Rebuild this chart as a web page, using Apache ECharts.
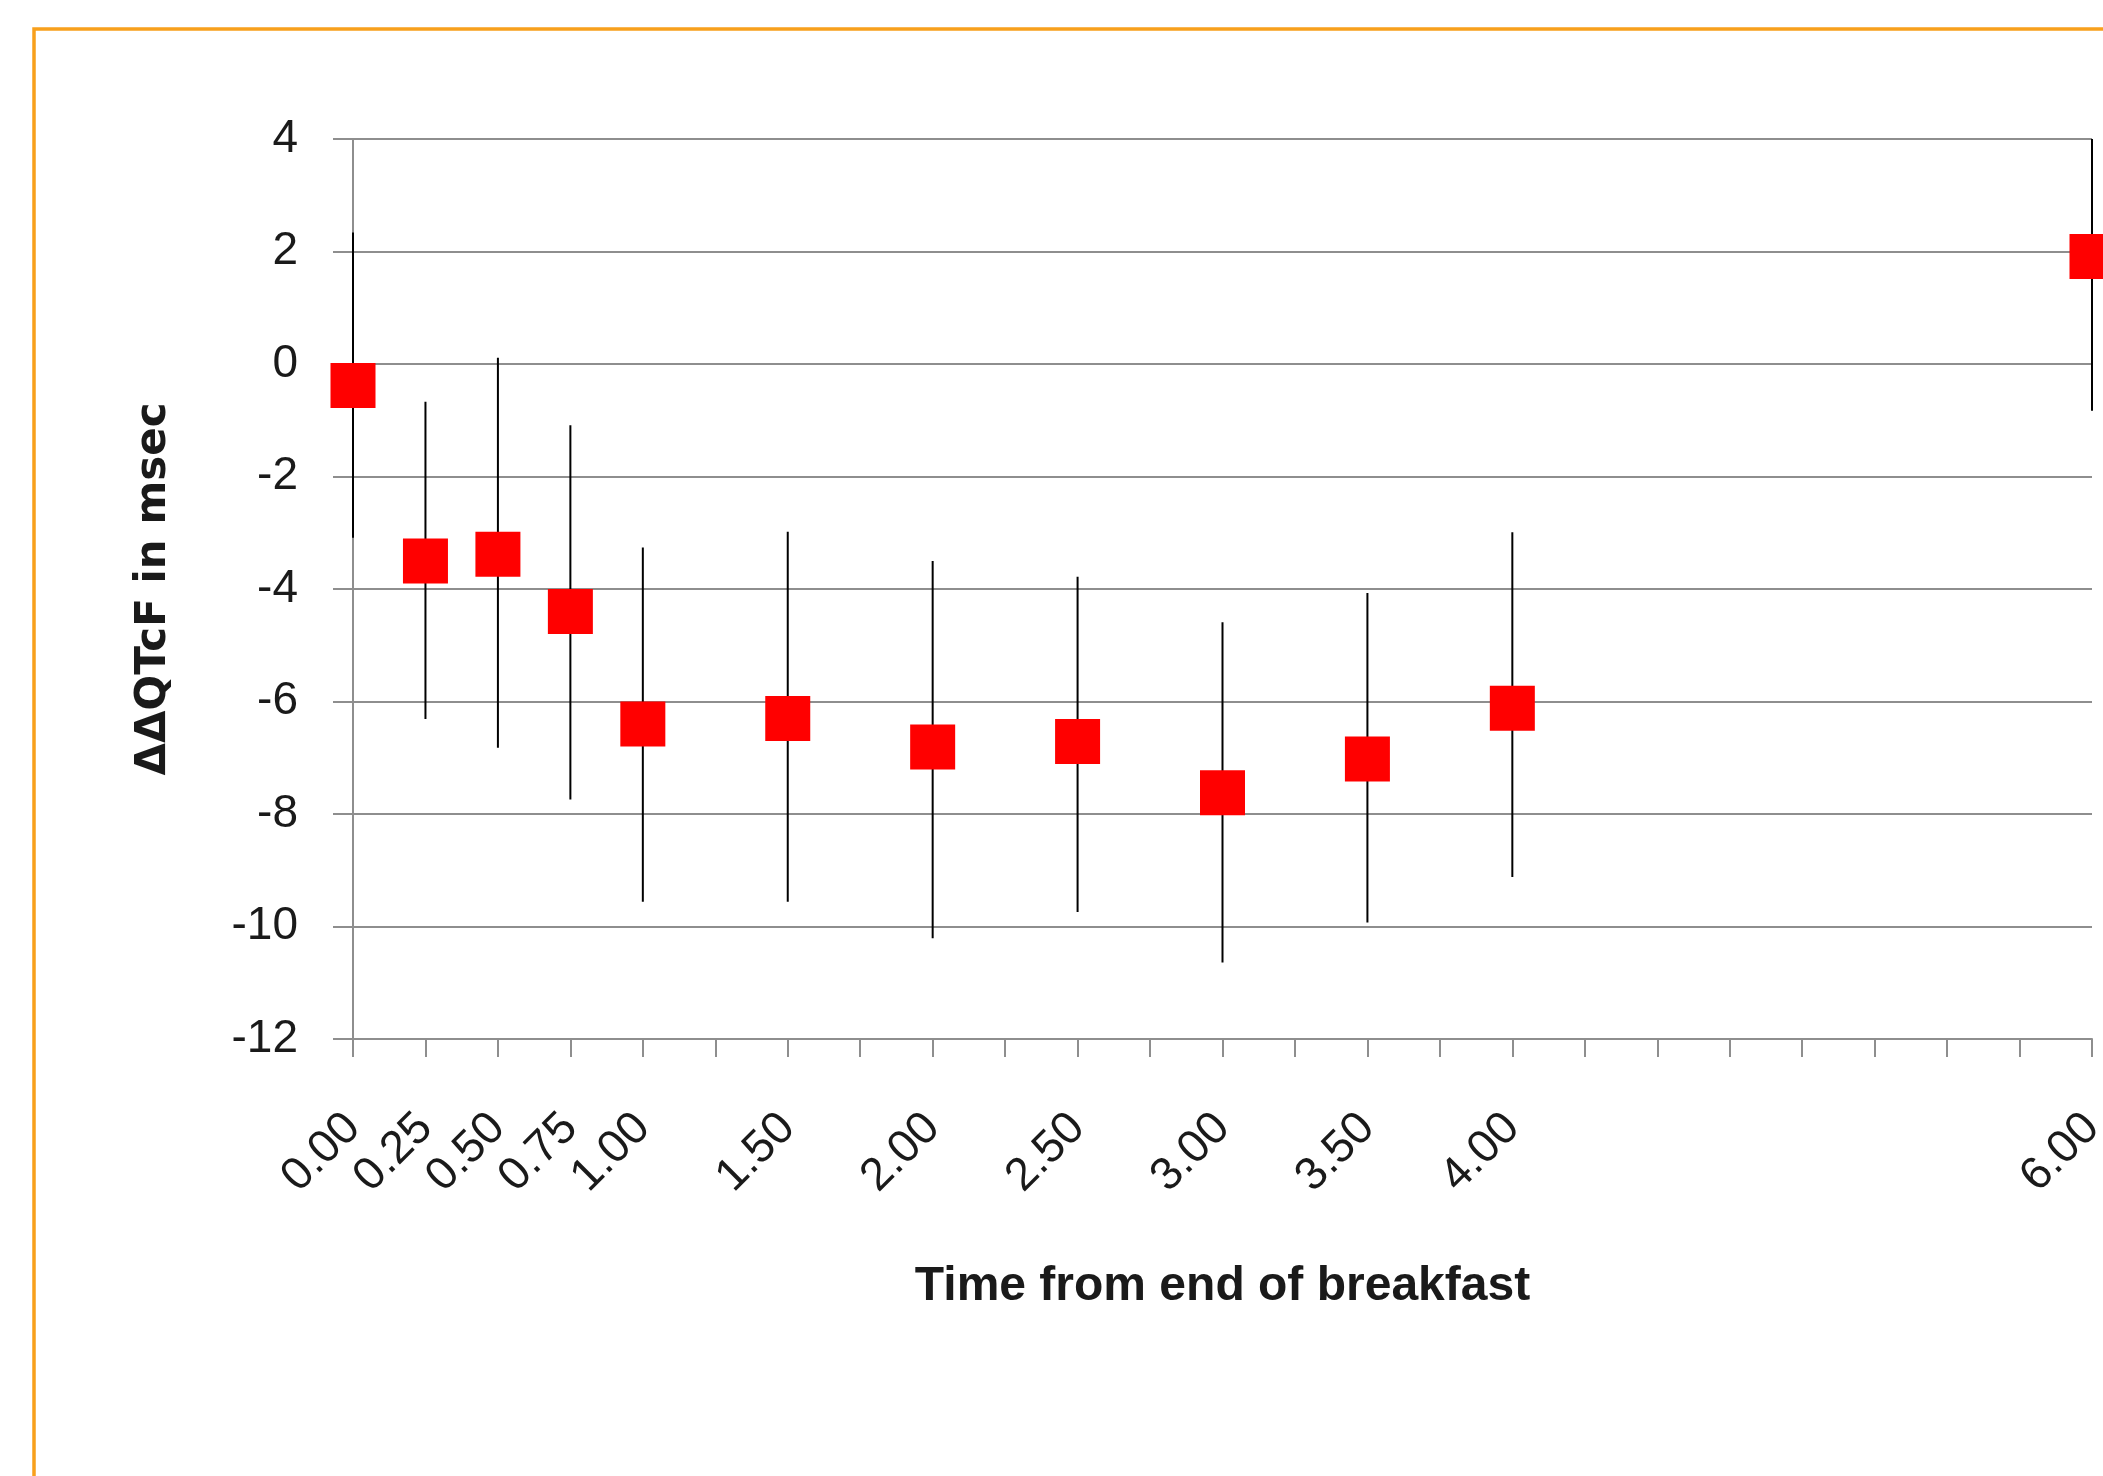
<!DOCTYPE html>
<html>
<head>
<meta charset="utf-8">
<title>ΔΔQTcF vs time from end of breakfast</title>
<script src="https://cdn.jsdelivr.net/npm/echarts/dist/echarts.min.js"></script>
<style>
    html, body { margin: 0; padding: 0; background: #fff; }
    #chart { width: 2103px; height: 1476px; }
</style>
</head>
<body>
<div id="chart"></div>
<script>
// hours after end of breakfast
const times = [0, 0.25, 0.5, 0.75, 1, 1.5, 2, 2.5, 3, 3.5, 4, 6];
// mean ddQTcF (msec)
const means = [-0.38, -3.50, -3.38, -4.40, -6.40, -6.30, -6.81, -6.71, -7.62, -7.02, -6.12, 1.91];
// lower / upper ends of the error bars
const lower = [-3.09, -6.31, -6.82, -7.74, -9.56, -9.56, -10.21, -9.74, -10.64, -9.93, -9.12, -0.83];
const upper = [2.34, -0.67, 0.11, -1.09, -3.26, -2.98, -3.50, -3.78, -4.59, -4.07, -2.99, 4.65];
// x values that get a tick label
const xLabels = [0, 0.25, 0.5, 0.75, 1, 1.5, 2, 2.5, 3, 3.5, 4, 6];
const yMin = -12, yMax = 4;

const chart = echarts.init(document.getElementById('chart'));
const gray = '#8e8e8e';
const txt = '#1a1a1a';

const options = {
    animation: false,
    backgroundColor: '#fff',
    grid: {
        left: 353,
        right: 11,
        top: 139,
        bottom: 437,
        containLabel: false,
        outerBoundsMode: 'none'
    },
    graphic: [{
        type: 'rect',
        shape: { x: 34, y: 29, width: 2200, height: 1600 },
        style: { fill: 'none', stroke: '#F8A01C', lineWidth: 3.5 },
        silent: true
    }],
    xAxis: {
        type: 'value',
        min: 0,
        max: 6,
        interval: 0.25,
        name: 'Time from end of breakfast',
        nameLocation: 'middle',
        nameGap: 224,
        nameTextStyle: {
            fontFamily: 'Liberation Sans',
            fontWeight: 'bold',
            fontSize: 48,
            color: txt
        },
        axisLine: { show: true, onZero: false, lineStyle: { color: gray, width: 2 } },
        axisTick: { show: true, length: 18, lineStyle: { color: gray, width: 2 } },
        splitLine: { show: false },
        axisLabel: {
            rotate: 45,
            margin: 82,
            fontFamily: 'Liberation Sans',
            fontSize: 46,
            color: txt,
            formatter: function (v) {
                return xLabels.some(function (t) { return Math.abs(t - v) < 1e-6; }) ? v.toFixed(2) : '';
            }
        }
    },
    yAxis: {
        type: 'value',
        min: yMin,
        max: yMax,
        interval: 2,
        name: 'ΔΔQTcF in msec',
        nameLocation: 'middle',
        nameGap: 178,
        nameRotate: 90,
        nameTextStyle: {
            fontFamily: 'DejaVu Sans',
            fontWeight: 'bold',
            fontSize: 42,
            color: txt
        },
        axisLine: { show: true, onZero: false, lineStyle: { color: gray, width: 2 } },
        axisTick: { show: true, length: 20, lineStyle: { color: gray, width: 2 } },
        splitLine: { show: true, lineStyle: { color: gray, width: 2 } },
        axisLabel: {
            margin: 55,
            fontFamily: 'Liberation Sans',
            fontSize: 46,
            color: txt
        }
    },
    series: [
        {
            type: 'custom',
            z: 2,
            data: times.map(function (t, i) { return [t, lower[i], upper[i]]; }),
            encode: { x: 0, y: [1, 2] },
            renderItem: function (params, api) {
                const x = api.value(0);
                const lo = Math.max(api.value(1), yMin);
                const hi = Math.min(api.value(2), yMax);
                const p1 = api.coord([x, hi]);
                const p2 = api.coord([x, lo]);
                return {
                    type: 'line',
                    shape: { x1: p1[0], y1: p1[1], x2: p2[0], y2: p2[1] },
                    style: { stroke: '#000', lineWidth: 2 }
                };
            }
        },
        {
            type: 'scatter',
            z: 3,
            symbol: 'rect',
            symbolSize: 45,
            clip: false,
            itemStyle: { color: '#FF0000', opacity: 1 },
            data: times.map(function (t, i) { return [t, means[i]]; })
        }
    ]
};

chart.setOption(options, true);
</script>
</body>
</html>
